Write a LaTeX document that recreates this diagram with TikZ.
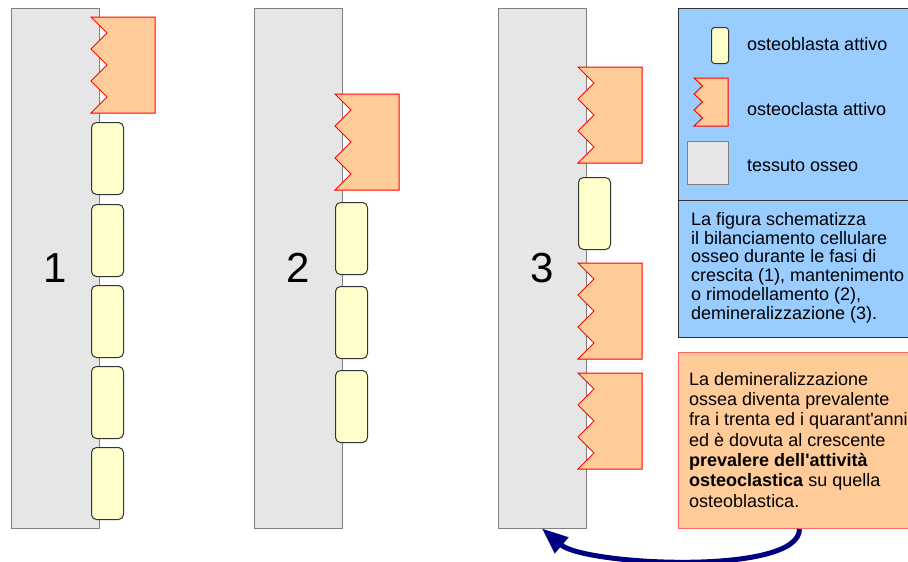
\documentclass[tikz,border=0pt]{standalone}
\usepackage{fontspec}
\setmainfont{Liberation Sans}[Ligatures=TeXOff]
\usetikzlibrary{arrows.meta}

\definecolor{bonegray}{HTML}{E6E6E6}
\definecolor{blastyellow}{HTML}{FFFFCC}
\definecolor{clastorange}{HTML}{FFCC99}
\definecolor{keyblue}{HTML}{99CCFF}
\definecolor{flownavy}{HTML}{000080}

% osteoclast: top left corner, width, height; saw-toothed on the left
\newcommand{\clast}[4]{%
  \draw[clast] (#1,#2) -- ++(#3,0) -- ++(0,#4) -- ++(-#3,0)
    -- ++({#3/4},{-#4/6}) -- ++({-#3/4},{-#4/6}) -- ++({#3/4},{-#4/6})
    -- ++({-#3/4},{-#4/6}) -- ++({#3/4},{-#4/6}) -- cycle;}

\begin{document}
\begin{tikzpicture}[x=1pt,y=-1pt,
  bone/.style={draw=gray,fill=bonegray,line width=1pt,inner sep=0pt,
    minimum width=88pt,minimum height=520pt,font=\fontsize{42}{42}\selectfont},
  blast/.style={draw=black!80,fill=blastyellow,line width=1pt,rounded corners=5pt,
    inner sep=0pt,minimum width=32pt,minimum height=72pt,anchor=north west},
  clast/.style={draw=red,fill=clastorange,line width=1pt},
  keybox/.style={draw=black!80,fill=keyblue,line width=1pt,anchor=north west,inner sep=0pt},
  notebox/.style={draw=red!60,fill=clastorange,line width=1pt,anchor=north west,inner sep=0pt},
  keytext/.style={anchor=west,inner sep=0pt,font=\fontsize{18}{18}\selectfont},
  boxtext/.style={anchor=north west,inner sep=0pt,align=left},
  flow/.style={draw=flownavy,line width=5pt,-{Triangle[length=26pt,width=20pt]}}]
\useasboundingbox (0,0) rectangle (908,562);
\clip (0,0) rectangle (908,562);

\foreach \x/\n in {55/1,298/2,542/3} \node[bone] (bone\n) at (\x,268) {\n};

\clast{91}{17}{64}{96}
\foreach \y [count=\i] in {122,204,285,366,447} \node[blast] (blastA\i) at (91,\y) {};

\clast{335}{94}{64}{96}
\foreach \y [count=\i] in {202,286,370} \node[blast] (blastB\i) at (335,\y) {};

\clast{578}{67}{64}{96}
\clast{578}{263}{64}{96}
\clast{578}{373}{64}{96}
\node[blast] (blastC1) at (578,177) {};

\node[keybox,minimum width=242pt,minimum height=329pt] (key) at (678,8) {};
\draw[black!80,line width=1pt] (678,200) -- (920,200);
\node[blast,minimum width=17pt,minimum height=36pt,rounded corners=3pt] (keyblast) at (711,27) {};
\clast{694}{78}{34}{48}
\node[bone,anchor=north west,minimum width=41pt,minimum height=43pt] (keybone) at (687,141) {};
\node[keytext] (keyblasttext) at (747,44) {osteoblasta attivo};
\node[keytext] (keyclasttext) at (747,109) {osteoclasta attivo};
\node[keytext] (keybonetext) at (747,166) {tessuto osseo};

\node[boxtext,font=\fontsize{18}{18.8}\selectfont] (summary) at (691,212)
  {La figura schematizza\\il bilanciamento cellulare\\osseo durante le fasi di\\
   crescita (1), mantenimento\\o rimodellamento (2),\\demineralizzazione (3).};

\node[notebox,minimum width=242pt,minimum height=176pt] (note) at (678,352) {};
\node[boxtext,font=\fontsize{18}{20.3}\selectfont] (notetext) at (689,372)
  {La demineralizzazione\\ossea diventa prevalente\\fra i trenta ed i quarant'anni\\
   ed è dovuta al crescente\\\textbf{prevalere dell'attività}\\
   \textbf{osteoclastica} su quella\\osteoblastica.};

\draw[flow] (note.south) .. controls +(0,47) and +(43,37) .. (bone3.south);
\end{tikzpicture}
\end{document}
